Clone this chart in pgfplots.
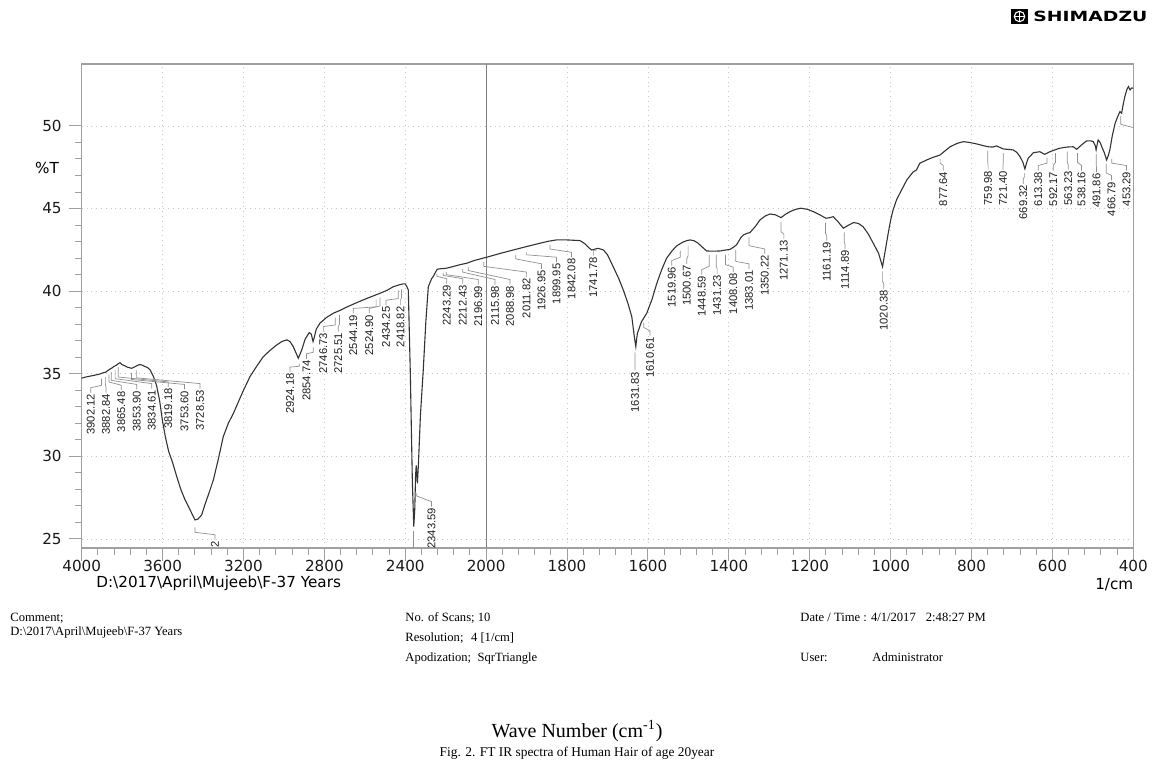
\documentclass[border=0pt]{standalone}
\usepackage{fontspec}
\setmainfont{Liberation Serif}
\newfontfamily\arial{Liberation Sans}
\newfontfamily\dejavu{DejaVu Sans}
\usepackage{graphicx}
\usepackage{pgfplots}
\usepackage{pgfplotstable}
\pgfplotsset{compat=1.18}

\definecolor{curve}{HTML}{333333}
\definecolor{framec}{HTML}{A0A0A0}
\definecolor{lead}{HTML}{909090}
\definecolor{gridc}{HTML}{C8C8C8}

\pgfplotstableread{
wn T
4000 34.73
3980 34.80
3960 34.85
3940 34.90
3920 34.95
3909 34.99
3895 35.05
3880 35.10
3865 35.25
3850 35.35
3840 35.45
3830 35.50
3820 35.60
3811 35.67
3800 35.55
3790 35.50
3775 35.40
3760 35.35
3753 35.33
3740 35.40
3725 35.50
3715 35.55
3703 35.53
3690 35.45
3680 35.40
3670 35.33
3660 35.20
3646 34.85
3630 34.30
3615 33.40
3600 32.10
3585 31.10
3570 30.30
3550 29.60
3530 28.77
3510 28.00
3490 27.40
3464 26.76
3450 26.40
3440 26.15
3425 26.20
3407 26.45
3390 27.10
3370 27.80
3349 28.57
3325 29.80
3300 31.19
3275 32.00
3250 32.60
3225 33.30
3200 34.00
3168 34.82
3135 35.45
3102 36.03
3070 36.40
3036 36.74
3010 36.95
2986 37.05
2970 36.95
2954 36.64
2940 36.25
2929 35.94
2920 36.20
2912 36.44
2895 37.10
2875 37.49
2865 37.40
2856 36.95
2850 37.20
2840 37.70
2822 38.06
2790 38.40
2756 38.66
2720 38.85
2690 39.03
2650 39.25
2608 39.47
2565 39.68
2525 39.87
2490 40.05
2459 40.27
2430 40.38
2410 40.44
2401 40.44
2393 40.30
2385 40.07
2375 35.00
2365 28.50
2358 25.75
2353 26.80
2349 28.80
2346 29.45
2343 29.00
2340 28.37
2335 29.50
2325 32.50
2311 35.23
2298 38.20
2286 40.27
2270 40.75
2262 40.88
2242 41.33
2220 41.36
2195 41.39
2160 41.50
2130 41.60
2096 41.69
2060 41.85
2030 41.95
1999 42.05
1966 42.28
1933 42.49
1900 42.70
1867 42.90
1846 43.02
1826 43.10
1800 43.10
1768 43.06
1755 42.85
1745 42.60
1739 42.49
1730 42.55
1723 42.59
1710 42.49
1700 42.20
1686 41.48
1672 40.75
1661 40.07
1650 39.30
1640 38.46
1634 37.30
1630 36.64
1628 37.10
1626 37.45
1616 38.15
1603 38.66
1590 39.50
1578 40.48
1566 41.30
1554 41.99
1540 42.45
1529 42.74
1515 42.95
1505 43.05
1496 43.10
1486 43.05
1476 42.90
1465 42.65
1455 42.43
1440 42.42
1422 42.43
1410 42.48
1397 42.53
1389 42.65
1381 42.80
1370 43.25
1364 43.40
1355 43.50
1348 43.54
1335 43.90
1323 44.31
1310 44.55
1298 44.67
1285 44.62
1271 44.45
1260 44.65
1249 44.81
1235 44.95
1222 45.02
1205 44.95
1191 44.81
1175 44.62
1160 44.41
1150 44.45
1142 44.51
1130 44.20
1117 43.81
1105 43.98
1092 44.15
1080 44.10
1068 43.90
1055 43.45
1043 42.90
1030 42.30
1020 41.48
1013 42.50
1006 43.50
1000 44.30
994 44.91
985 45.55
977 45.93
960 46.73
945 47.20
936 47.34
928 47.74
910 47.95
895 48.10
878 48.24
865 48.50
853 48.74
835 48.95
820 49.05
805 49.00
787 48.91
770 48.80
759 48.74
748 48.72
738 48.79
730 48.70
722 48.61
710 48.58
697 48.55
688 48.40
680 48.14
673 47.80
668 47.40
664 47.75
660 48.04
647 48.38
631 48.44
619 48.28
606 48.44
594 48.55
582 48.65
565 48.72
549 48.74
540 48.59
528 48.85
516 49.09
505 49.10
499 49.05
494 48.80
492 48.55
490 48.80
487 49.15
482 49.00
478 48.74
472 48.40
466 47.94
462 48.20
458 48.55
452 49.40
445 50.16
438 50.60
433 50.87
429 50.77
425 51.30
421 51.77
416 52.20
412 52.38
408 52.18
404 52.30
400 52.28
}\spectrum

% label, peak wn, label wn, leader start y, knee y, label top y
\newcommand\pk[6]{%
  \draw[lead, line width=0.35pt] (axis cs:#2,#4) -- (axis cs:#2,#5) -- ([yshift=2.5pt]axis cs:#3,#6) -- (axis cs:#3,#6);
  \node[rotate=90, anchor=east, inner sep=0.5pt, text=black!88,
        font=\arial\fontsize{5.6}{6}\selectfont] at (axis cs:#3,#6) {#1};
}

\begin{document}
\begin{tikzpicture}
\path[use as bounding box] (0,0) rectangle (577pt,-382pt);
\begin{axis}[
  at={(40.85pt,-274pt)}, anchor=south west,
  scale only axis, width=525.8pt, height=242pt,
  x coord trafo/.code={\pgfmathparse{(#1>=2000)?((4000-#1)/400):(5+(2000-#1)/200)}},
  xmin=4000, xmax=400, ymin=24.45, ymax=53.75,
  xtick={4000,3600,3200,2800,2400,2000,1800,1600,1400,1200,1000,800,600,400},
  xticklabels={4000,3600,3200,2800,2400,2000,1800,1600,1400,1200,1000,800,600,400},
  minor x tick num=4,
  ytick={25,30,35,40,45,50}, yticklabels={25,30,35,40,45,50},
  minor y tick num=4,
  tick align=outside, tick pos=left,
  axis line style={framec, line width=0.6pt},
  major tick length=6.5pt, minor tick length=3.5pt,
  every tick/.style={framec, line width=0.5pt},
  ticklabel style={font=\dejavu\fontsize{7.6}{9}\selectfont, text=black!90},
  xticklabel style={yshift=4pt},
  grid=major, major grid style={gridc, dotted, line width=0.4pt},
]
\draw[framec!80!black, line width=0.5pt] (axis cs:2000,24.45) -- (axis cs:2000,53.75);
\addplot[curve, line width=0.55pt] table[x=wn, y=T] {\spectrum};

\pk{3902.12}{3902.12}{3955}{34.7}{34.3}{33.85}
\pk{3882.84}{3882.84}{3880}{34.8}{34.4}{33.85}
\pk{3865.48}{3865.48}{3804}{34.95}{34.5}{34.0}
\pk{3853.90}{3853.90}{3728}{35.1}{34.6}{34.05}
\pk{3834.61}{3834.61}{3654}{35.25}{34.7}{34.1}
\pk{3819.18}{3819.18}{3572}{35.4}{34.8}{34.2}
\pk{3753.60}{3753.60}{3492}{35.05}{34.65}{34.05}
\pk{3728.53}{3728.53}{3415}{35.2}{34.75}{34.1}
\pk{2}{3440}{3341}{25.7}{25.4}{24.95}
\pk{2924.18}{2924.18}{2970}{35.6}{35.45}{35.1}
\pk{2854.74}{2854.74}{2888}{36.6}{36.3}{35.9}
\pk{2746.73}{2746.73}{2805}{38.4}{37.95}{37.55}
\pk{2725.51}{2725.51}{2731}{38.55}{38.0}{37.55}
\pk{2544.19}{2544.19}{2657}{39.5}{39.05}{38.65}
\pk{2524.90}{2524.90}{2578}{39.6}{39.1}{38.65}
\pk{2434.25}{2434.25}{2495}{40.05}{39.55}{39.15}
\pk{2418.82}{2418.82}{2423}{40.1}{39.6}{39.15}
\pk{2343.59}{2343.59}{2270}{27.75}{27.6}{26.95}
\pk{2243.29}{2243.29}{2195}{41.05}{40.9}{40.45}
\pk{2212.43}{2212.43}{2116}{41.1}{40.95}{40.45}
\pk{2196.99}{2196.99}{2039}{41.15}{41.0}{40.4}
\pk{2115.98}{2115.98}{1978}{41.35}{41.15}{40.4}
\pk{2088.98}{2088.98}{1941}{41.45}{41.25}{40.4}
\pk{2011.82}{2011.82}{1900}{41.75}{41.5}{40.85}
\pk{1926.95}{1926.95}{1863}{42.2}{41.95}{41.35}
\pk{1899.95}{1899.95}{1826}{42.35}{42.2}{41.75}
\pk{1842.08}{1842.08}{1789}{42.8}{42.55}{42.05}
\pk{1741.78}{1728}{1735}{42.45}{42.45}{42.15}
\pk{1631.83}{1631.83}{1632}{36.3}{35.7}{35.2}
\pk{1610.61}{1610.61}{1595}{38.1}{37.8}{37.3}
\pk{1519.96}{1519.96}{1541}{42.45}{42.05}{41.55}
\pk{1500.67}{1500.67}{1504}{42.75}{42.15}{41.65}
\pk{1448.59}{1448.59}{1467}{42.2}{41.5}{41.0}
\pk{1431.23}{1431.23}{1429}{42.2}{41.55}{41.05}
\pk{1408.08}{1408.08}{1389}{42.2}{41.6}{41.15}
\pk{1383.01}{1383.01}{1350}{42.5}{41.8}{41.35}
\pk{1350.22}{1350.22}{1311}{43.25}{42.75}{42.25}
\pk{1271.13}{1271.13}{1264}{44.2}{43.6}{43.15}
\pk{1161.19}{1161.19}{1158}{44.15}{43.5}{43.05}
\pk{1114.89}{1114.89}{1113}{43.55}{43.0}{42.55}
\pk{1020.38}{1020.38}{1017}{41.2}{40.6}{40.15}
\pk{877.64}{877.64}{870}{48.0}{47.75}{47.3}
\pk{759.98}{759.98}{759}{48.5}{47.8}{47.35}
\pk{721.40}{721.40}{722}{48.35}{47.8}{47.35}
\pk{669.32}{669.32}{672}{47.15}{46.9}{46.5}
\pk{613.38}{613.38}{635}{48.05}{47.75}{47.3}
\pk{592.17}{592.17}{598}{48.35}{47.8}{47.3}
\pk{563.23}{563.23}{561}{48.45}{47.8}{47.35}
\pk{538.16}{538.16}{528}{48.35}{47.8}{47.3}
\pk{491.86}{491.86}{491}{48.3}{47.6}{47.2}
\pk{466.79}{466.79}{454}{47.7}{47.15}{46.7}
\pk{453.29}{453.29}{417}{48.0}{47.75}{47.3}
\draw[lead, line width=0.35pt] (axis cs:431,50.6) -- (axis cs:431,50.1) -- (axis cs:400,49.9);
\draw[lead, line width=0.35pt] (axis cs:2358,25.5) -- (axis cs:2358,24.45);
\end{axis}

% axis texts
\node[font=\dejavu\fontsize{7.6}{9}\selectfont] at (23.5pt,-84pt) {\%T};
\node[anchor=west, inner sep=0pt, font=\dejavu\fontsize{7.6}{9}\selectfont] at (48pt,-291.5pt)
  {D:\textbackslash 2017\textbackslash April\textbackslash Mujeeb\textbackslash F-37 Years};
\node[anchor=east, inner sep=0pt, font=\dejavu\fontsize{7.6}{9}\selectfont] at (566.8pt,-292.5pt) {1/cm};

% logo
\fill[black] (505.5pt,-4.5pt) rectangle (514pt,-12pt);
\draw[white, line width=0.55pt] (509.75pt,-8.25pt) circle (2.6pt);
\draw[white, line width=0.55pt] (509.75pt,-5.65pt) -- (509.75pt,-10.85pt) (507.15pt,-8.25pt) -- (512.35pt,-8.25pt);
\node[anchor=west, inner sep=0pt] at (516.5pt,-8.4pt) {\resizebox{57pt}{5.2pt}{\dejavu\bfseries SHIMADZU}};

% footer
\begin{scope}[every node/.style={anchor=base west, inner sep=0pt, font=\fontsize{6.3}{7}\selectfont}]
\node at (5pt,-310.5pt) {Comment;};
\node at (5pt,-317.5pt) {D:\textbackslash 2017\textbackslash April\textbackslash Mujeeb\textbackslash F-37 Years};
\node at (202.5pt,-310.5pt) {No. of Scans; 10};
\node at (202.5pt,-320.5pt) {Resolution;\hspace{0.6em}4 [1/cm]};
\node at (202.5pt,-330.5pt) {Apodization;\hspace{0.5em}SqrTriangle};
\node at (400pt,-310.5pt) {Date / Time : 4/1/2017\hspace{0.8em}2:48:27 PM};
\node at (400pt,-330.5pt) {User:};
\node at (436pt,-330.5pt) {Administrator};
\end{scope}
\node[anchor=base, inner sep=0pt, font=\fontsize{10}{12}\selectfont] at (288.5pt,-368.5pt) {Wave Number (cm\textsuperscript{-1})};
\node[anchor=base, inner sep=0pt, font=\fontsize{6.7}{8}\selectfont] at (288.5pt,-378pt) {Fig. 2. FT IR spectra of Human Hair of age 20year};
\end{tikzpicture}
\end{document}
